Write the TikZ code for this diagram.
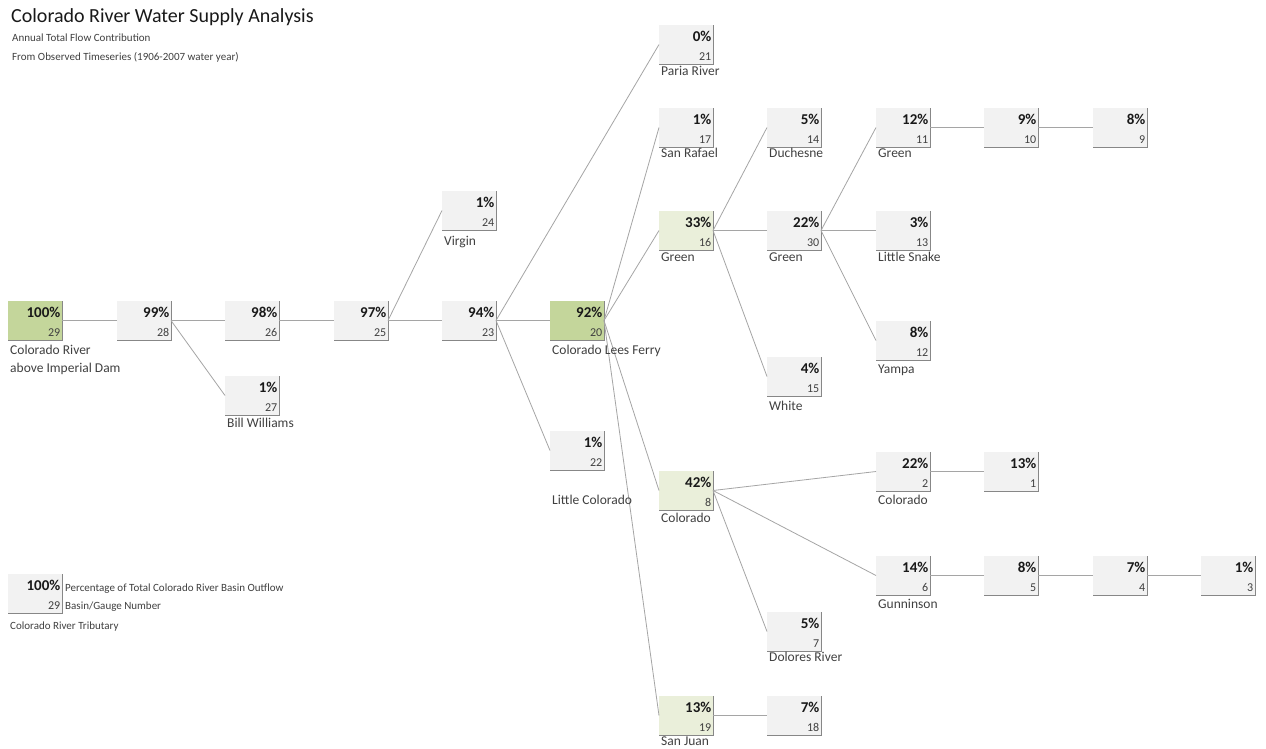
\documentclass[tikz,border=0pt]{standalone}
\usepackage{fontspec}
\setmainfont{Carlito}
\usetikzlibrary{calc}
\definecolor{boxgray}{RGB}{242,242,242}
\definecolor{darkg}{RGB}{196,214,155}
\definecolor{lightg}{RGB}{234,239,218}
\definecolor{rimc}{RGB}{135,135,135}
\definecolor{connc}{RGB}{165,165,165}
\definecolor{txtc}{RGB}{64,64,64}
\tikzset{
  basin/.style={draw=none, minimum width=54pt, minimum height=39pt, anchor=north west, inner sep=0pt, outer sep=0pt},
  rim/.style={draw=rimc, line width=0.9pt},
  pctxt/.style={anchor=base east, inner sep=0pt, font=\fontsize{15}{18}\selectfont\bfseries, text=black!90},
  numtxt/.style={anchor=base east, inner sep=0pt, font=\fontsize{12}{14}\selectfont, text=txtc},
  lbl/.style={anchor=base west, inner sep=0pt, font=\fontsize{13.5}{16}\selectfont, text=txtc},
  legtxt/.style={anchor=base west, inner sep=0pt, font=\fontsize{11}{13}\selectfont, text=txtc},
  conn/.style={draw=connc, line width=0.8pt},
}
\newcommand\basinbox[6]{%
  \node[basin, fill=#6] (#1) at (#2,#3) {};
  \draw[rim] (#1.north east) -- (#1.south east) -- (#1.south west);
  \node[pctxt] (#1p) at ($(#1.north east)+(-1.5,16)$) {#4};
  \node[numtxt] (#1n) at ($(#1.south east)+(-1.5,-4)$) {#5};
}
\begin{document}
\begin{tikzpicture}[x=1pt,y=-1pt]
\useasboundingbox (0,0) rectangle (1266,748);
\fill[white] (0,0) rectangle (1266,748);

% title
\node[anchor=base west, inner sep=0pt, font=\fontsize{20}{24}\selectfont, text=black!90] (title) at (11,22) {Colorado River Water Supply Analysis};
\node[legtxt] (sub1) at (12,41) {Annual Total Flow Contribution};
\node[legtxt] (sub2) at (12,60) {From Observed Timeseries (1906-2007 water year)};

% boxes
\basinbox{b29}{8}{301}{100\%}{29}{darkg}
\basinbox{b28}{117}{301}{99\%}{28}{boxgray}
\basinbox{b26}{225}{301}{98\%}{26}{boxgray}
\basinbox{b25}{334}{301}{97\%}{25}{boxgray}
\basinbox{b23}{442}{301}{94\%}{23}{boxgray}
\basinbox{b20}{550}{301}{92\%}{20}{darkg}
\basinbox{b27}{225}{376}{1\%}{27}{boxgray}
\basinbox{b24}{442}{191}{1\%}{24}{boxgray}
\basinbox{b22}{550}{431}{1\%}{22}{boxgray}
\basinbox{b21}{659}{25}{0\%}{21}{boxgray}
\basinbox{b17}{659}{108}{1\%}{17}{boxgray}
\basinbox{b16}{659}{211}{33\%}{16}{lightg}
\basinbox{b8}{659}{471}{42\%}{8}{lightg}
\basinbox{b19}{659}{696}{13\%}{19}{lightg}
\basinbox{b14}{767}{108}{5\%}{14}{boxgray}
\basinbox{b30}{767}{211}{22\%}{30}{boxgray}
\basinbox{b15}{767}{357}{4\%}{15}{boxgray}
\basinbox{b7}{767}{612}{5\%}{7}{boxgray}
\basinbox{b18}{767}{696}{7\%}{18}{boxgray}
\basinbox{b11}{876}{108}{12\%}{11}{boxgray}
\basinbox{b13}{876}{211}{3\%}{13}{boxgray}
\basinbox{b12}{876}{321}{8\%}{12}{boxgray}
\basinbox{b2}{876}{452}{22\%}{2}{boxgray}
\basinbox{b6}{876}{556}{14\%}{6}{boxgray}
\basinbox{b10}{984}{108}{9\%}{10}{boxgray}
\basinbox{b9}{1093}{108}{8\%}{9}{boxgray}
\basinbox{b1}{984}{452}{13\%}{1}{boxgray}
\basinbox{b5}{984}{556}{8\%}{5}{boxgray}
\basinbox{b4}{1093}{556}{7\%}{4}{boxgray}
\basinbox{b3}{1201}{556}{1\%}{3}{boxgray}

% connectors
\foreach \a/\b in {b29/b28, b28/b26, b28/b27, b26/b25, b25/b23, b25/b24,
  b23/b20, b23/b21, b23/b22, b20/b17, b20/b16, b20/b8, b20/b19,
  b16/b14, b16/b30, b16/b15, b30/b11, b30/b13, b30/b12, b11/b10, b10/b9,
  b8/b2, b8/b6, b8/b7, b2/b1, b6/b5, b5/b4, b4/b3, b19/b18}
  \draw[conn] (\a.east) -- (\b.west);

% labels
\node[lbl] (l29a) at (10,354) {Colorado River};
\node[lbl] (l29b) at (10,372) {above Imperial Dam};
\node[lbl] (l27) at (227,427) {Bill Williams};
\node[lbl] (l24) at (444,245) {Virgin};
\node[lbl] (l20) at (552,354) {Colorado Lees Ferry};
\node[lbl] (l22) at (552,504) {Little Colorado};
\node[lbl] (l21) at (661,75) {Paria River};
\node[lbl] (l17) at (661,157) {San Rafael};
\node[lbl] (l14) at (769,157) {Duchesne};
\node[lbl] (l11) at (878,157) {Green};
\node[lbl] (l16) at (661,261) {Green};
\node[lbl] (l30) at (769,261) {Green};
\node[lbl] (l13) at (878,261) {Little Snake};
\node[lbl] (l12) at (878,373) {Yampa};
\node[lbl] (l15) at (769,410) {White};
\node[lbl] (l8) at (661,522) {Colorado};
\node[lbl] (l2) at (878,504) {Colorado};
\node[lbl] (l6) at (878,608) {Gunninson};
\node[lbl] (l7) at (769,661) {Dolores River};
\node[lbl] (l19) at (661,745) {San Juan};

% legend
\basinbox{leg}{8}{574}{100\%}{29}{boxgray}
\node[legtxt] (leg1) at (65,591) {Percentage of Total Colorado River Basin Outflow};
\node[legtxt] (leg2) at (65,609) {Basin/Gauge Number};
\node[legtxt] (leg3) at (10,629) {Colorado River Tributary};
\end{tikzpicture}
\end{document}
